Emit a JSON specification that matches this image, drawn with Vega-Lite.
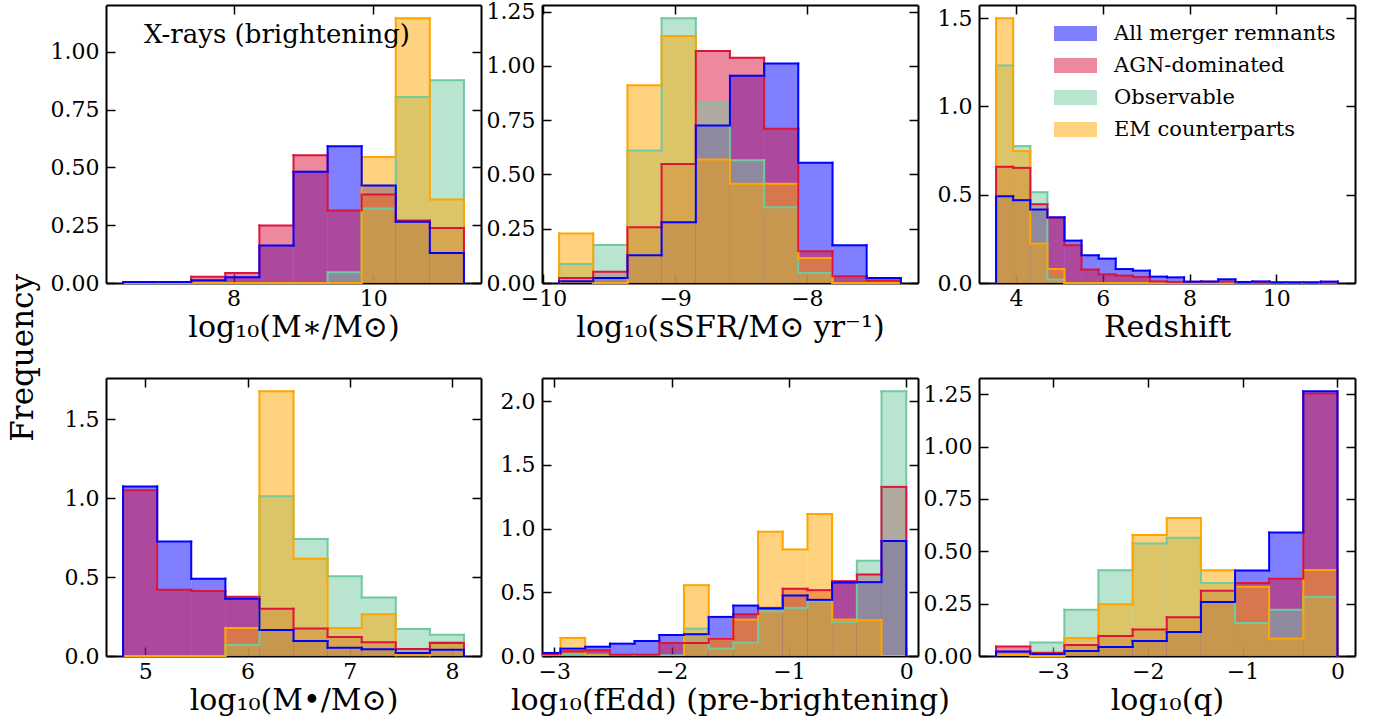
{
"$schema":"https://vega.github.io/schema/vega-lite/v6.json",
"autosize":{"type":"pad"},
"padding":{"left":8,"top":0,"right":5,"bottom":3},
"background":"white",
"title":{"text":"Frequency","orient":"left","anchor":"middle","fontSize":31,"font":"DejaVu Serif","fontWeight":"normal","color":"black","offset":10},
"columns":3,
"spacing":{"row":95,"column":61},
"bounds":"flush",
"resolve":{"scale":{"color":"independent","stroke":"independent"}},
"concat":[
{"width":375,"height":278,
"title":{"text":"X-rays (brightening)","orient":"top","anchor":"start","frame":"group","offset":-44,"dx":38,"fontSize":26,"font":"DejaVu Serif","fontWeight":"normal","color":"black"},
"data":{"values":[
{"x0":6.420,"x1":6.908,"all":0.004,"agn":0.004,"obs":0,"em":0},
{"x0":6.908,"x1":7.395,"all":0.004,"agn":0.004,"obs":0,"em":0},
{"x0":7.395,"x1":7.883,"all":0.012,"agn":0.027,"obs":0,"em":0},
{"x0":7.883,"x1":8.370,"all":0.025,"agn":0.043,"obs":0,"em":0},
{"x0":8.370,"x1":8.858,"all":0.162,"agn":0.249,"obs":0,"em":0},
{"x0":8.858,"x1":9.346,"all":0.481,"agn":0.553,"obs":0,"em":0},
{"x0":9.346,"x1":9.833,"all":0.592,"agn":0.314,"obs":0.046,"em":0},
{"x0":9.833,"x1":10.321,"all":0.422,"agn":0.383,"obs":0.322,"em":0.545},
{"x0":10.321,"x1":10.808,"all":0.265,"agn":0.270,"obs":0.805,"em":1.146},
{"x0":10.808,"x1":11.296,"all":0.130,"agn":0.238,"obs":0.877,"em":0.361}
]},
"layer":[
{"transform":[{"fold":["all","agn","obs","em"],"as":["series","h"]}],"mark":{"type":"rect"},"encoding":{"x":{"field":"x0","type":"quantitative","scale":{"domain":[6.176,11.54],"nice":false,"zero":false},"axis":{"orient":"bottom","values":[8,10],"format":"d","title":"log₁₀(M∗/M⊙)"}},"x2":{"field":"x1"},"y":{"field":"h","type":"quantitative","scale":{"domain":[0,1.203],"nice":false},"axis":{"orient":"left","values":[0,0.25,0.5,0.75,1],"format":".2f","title":null}},"y2":{"datum":0},"color":{"field":"series","type":"nominal","legend":null}}},
{"transform":[{"fold":["obs","em","agn","all"],"as":["series","h"]}],"mark":{"type":"rule"},"encoding":{"x":{"field":"x0","type":"quantitative","axis":{"orient":"top","values":[8,10],"labels":false,"title":null}},"x2":{"field":"x1"},"y":{"field":"h","type":"quantitative","axis":{"orient":"right","values":[0,0.25,0.5,0.75,1],"labels":false,"title":null}},"stroke":{"field":"series","type":"nominal","legend":null}}},
{"transform":[{"fold":["obs","em","agn","all"],"as":["series","h"]},{"window":[{"op":"lag","field":"h","as":"hp"},{"op":"lead","field":"h","as":"hn"}],"groupby":["series"],"sort":[{"field":"x0","order":"ascending"}]},{"filter":"datum.hp != null"}],"mark":{"type":"rule"},"encoding":{"x":{"field":"x0","type":"quantitative","axis":null},"y":{"field":"hp","type":"quantitative","axis":null},"y2":{"field":"h"},"stroke":{"field":"series","type":"nominal","legend":null}}},
{"transform":[{"fold":["obs","em","agn","all"],"as":["series","h"]},{"window":[{"op":"lag","field":"h","as":"hp"},{"op":"lead","field":"h","as":"hn"}],"groupby":["series"],"sort":[{"field":"x0","order":"ascending"}]},{"filter":"datum.hp == null"}],"mark":{"type":"rule"},"encoding":{"x":{"field":"x0","type":"quantitative","axis":null},"y":{"field":"h","type":"quantitative","axis":null},"y2":{"datum":0},"stroke":{"field":"series","type":"nominal","legend":null}}},
{"transform":[{"fold":["obs","em","agn","all"],"as":["series","h"]},{"window":[{"op":"lag","field":"h","as":"hp"},{"op":"lead","field":"h","as":"hn"}],"groupby":["series"],"sort":[{"field":"x0","order":"ascending"}]},{"filter":"datum.hn == null"}],"mark":{"type":"rule"},"encoding":{"x":{"field":"x1","type":"quantitative","axis":null},"y":{"field":"h","type":"quantitative","axis":null},"y2":{"datum":0},"stroke":{"field":"series","type":"nominal","legend":null}}}
]},
{"width":376,"height":278,
"data":{"values":[
{"x0":-9.881,"x1":-9.622,"all":0.008,"agn":0.023,"obs":0.088,"em":0.228},
{"x0":-9.622,"x1":-9.362,"all":0.023,"agn":0.052,"obs":0.175,"em":0},
{"x0":-9.362,"x1":-9.103,"all":0.128,"agn":0.257,"obs":0.611,"em":0.911},
{"x0":-9.103,"x1":-8.843,"all":0.280,"agn":0.548,"obs":1.220,"em":1.138},
{"x0":-8.843,"x1":-8.584,"all":0.726,"agn":1.069,"obs":0.828,"em":0.569},
{"x0":-8.584,"x1":-8.324,"all":0.955,"agn":1.038,"obs":0.566,"em":0.457},
{"x0":-8.324,"x1":-8.065,"all":1.011,"agn":0.711,"obs":0.349,"em":0.457},
{"x0":-8.065,"x1":-7.805,"all":0.554,"agn":0.146,"obs":0.046,"em":0.115},
{"x0":-7.805,"x1":-7.546,"all":0.174,"agn":0.031,"obs":0,"em":0},
{"x0":-7.546,"x1":-7.286,"all":0.023,"agn":0.012,"obs":0,"em":0}
]},
"layer":[
{"transform":[{"fold":["all","agn","obs","em"],"as":["series","h"]}],"mark":{"type":"rect"},"encoding":{"x":{"field":"x0","type":"quantitative","scale":{"domain":[-10.011,-7.156],"nice":false,"zero":false},"axis":{"orient":"bottom","values":[-10,-9,-8],"format":"d","title":"log₁₀(sSFR/M⊙ yr⁻¹)"}},"x2":{"field":"x1"},"y":{"field":"h","type":"quantitative","scale":{"domain":[0,1.281],"nice":false},"axis":{"orient":"left","values":[0,0.25,0.5,0.75,1,1.25],"format":".2f","title":null}},"y2":{"datum":0},"color":{"field":"series","type":"nominal","legend":null}}},
{"transform":[{"fold":["obs","em","agn","all"],"as":["series","h"]}],"mark":{"type":"rule"},"encoding":{"x":{"field":"x0","type":"quantitative","axis":{"orient":"top","values":[-10,-9,-8],"labels":false,"title":null}},"x2":{"field":"x1"},"y":{"field":"h","type":"quantitative","axis":{"orient":"right","values":[0,0.25,0.5,0.75,1,1.25],"labels":false,"title":null}},"stroke":{"field":"series","type":"nominal","legend":null}}},
{"transform":[{"fold":["obs","em","agn","all"],"as":["series","h"]},{"window":[{"op":"lag","field":"h","as":"hp"},{"op":"lead","field":"h","as":"hn"}],"groupby":["series"],"sort":[{"field":"x0","order":"ascending"}]},{"filter":"datum.hp != null"}],"mark":{"type":"rule"},"encoding":{"x":{"field":"x0","type":"quantitative","axis":null},"y":{"field":"hp","type":"quantitative","axis":null},"y2":{"field":"h"},"stroke":{"field":"series","type":"nominal","legend":null}}},
{"transform":[{"fold":["obs","em","agn","all"],"as":["series","h"]},{"window":[{"op":"lag","field":"h","as":"hp"},{"op":"lead","field":"h","as":"hn"}],"groupby":["series"],"sort":[{"field":"x0","order":"ascending"}]},{"filter":"datum.hp == null"}],"mark":{"type":"rule"},"encoding":{"x":{"field":"x0","type":"quantitative","axis":null},"y":{"field":"h","type":"quantitative","axis":null},"y2":{"datum":0},"stroke":{"field":"series","type":"nominal","legend":null}}},
{"transform":[{"fold":["obs","em","agn","all"],"as":["series","h"]},{"window":[{"op":"lag","field":"h","as":"hp"},{"op":"lead","field":"h","as":"hn"}],"groupby":["series"],"sort":[{"field":"x0","order":"ascending"}]},{"filter":"datum.hn == null"}],"mark":{"type":"rule"},"encoding":{"x":{"field":"x1","type":"quantitative","axis":null},"y":{"field":"h","type":"quantitative","axis":null},"y2":{"datum":0},"stroke":{"field":"series","type":"nominal","legend":null}}}
]},
{"width":376,"height":278,
"data":{"values":[
{"x0":3.538,"x1":3.932,"all":0.491,"agn":0.658,"obs":1.232,"em":1.499},
{"x0":3.932,"x1":4.327,"all":0.469,"agn":0.652,"obs":0.775,"em":0.747},
{"x0":4.327,"x1":4.721,"all":0.416,"agn":0.446,"obs":0.514,"em":0.223},
{"x0":4.721,"x1":5.115,"all":0.372,"agn":0.369,"obs":0.02,"em":0.079},
{"x0":5.115,"x1":5.509,"all":0.240,"agn":0.214,"obs":0,"em":0},
{"x0":5.509,"x1":5.904,"all":0.157,"agn":0.076,"obs":0,"em":0},
{"x0":5.904,"x1":6.298,"all":0.138,"agn":0.049,"obs":0,"em":0},
{"x0":6.298,"x1":6.692,"all":0.079,"agn":0.042,"obs":0,"em":0},
{"x0":6.692,"x1":7.086,"all":0.070,"agn":0.034,"obs":0,"em":0},
{"x0":7.086,"x1":7.481,"all":0.036,"agn":0.009,"obs":0,"em":0},
{"x0":7.481,"x1":7.875,"all":0.032,"agn":0.006,"obs":0,"em":0},
{"x0":7.875,"x1":8.269,"all":0.008,"agn":0.006,"obs":0,"em":0},
{"x0":8.269,"x1":8.663,"all":0.008,"agn":0.008,"obs":0,"em":0},
{"x0":8.663,"x1":9.058,"all":0.021,"agn":0.008,"obs":0,"em":0},
{"x0":9.058,"x1":9.452,"all":0.006,"agn":0.002,"obs":0,"em":0},
{"x0":9.452,"x1":9.846,"all":0.009,"agn":0.002,"obs":0,"em":0},
{"x0":9.846,"x1":10.240,"all":0.004,"agn":0.002,"obs":0,"em":0},
{"x0":10.240,"x1":10.635,"all":0.004,"agn":0.002,"obs":0,"em":0},
{"x0":10.635,"x1":11.029,"all":0.004,"agn":0.002,"obs":0,"em":0},
{"x0":11.029,"x1":11.423,"all":0.008,"agn":0.002,"obs":0,"em":0}
]},
"layer":[
{"transform":[{"fold":["all","agn","obs","em"],"as":["series","h"]}],"mark":{"type":"rect"},"encoding":{"x":{"field":"x0","type":"quantitative","scale":{"domain":[3.144,11.817],"nice":false,"zero":false},"axis":{"orient":"bottom","values":[4,6,8,10],"format":"d","title":"Redshift"}},"x2":{"field":"x1"},"y":{"field":"h","type":"quantitative","scale":{"domain":[0,1.574],"nice":false},"axis":{"orient":"left","values":[0,0.5,1,1.5],"format":".1f","title":null}},"y2":{"datum":0},"color":{"field":"series","type":"nominal","scale":{"domain":["all","agn","obs","em"],"range":["#0000ff","#dc143c","#72c9a1","#ffa500"]},"legend":{"orient":"none","legendX":75,"legendY":7,"title":null,"padding":0,"symbolType":"M-1,-0.35H1V0.35H-1Z","symbolSize":1849,"symbolOpacity":1,"symbolStrokeWidth":0,"labelFontSize":21,"labelFont":"DejaVu Serif","labelColor":"black","labelOffset":17,"labelLimit":0,"rowPadding":-1,"labelExpr":"datum.label == 'all' ? 'All merger remnants' : datum.label == 'agn' ? 'AGN-dominated' : datum.label == 'obs' ? 'Observable' : 'EM counterparts'"}}}},
{"transform":[{"fold":["obs","em","agn","all"],"as":["series","h"]}],"mark":{"type":"rule"},"encoding":{"x":{"field":"x0","type":"quantitative","axis":{"orient":"top","values":[4,6,8,10],"labels":false,"title":null}},"x2":{"field":"x1"},"y":{"field":"h","type":"quantitative","axis":{"orient":"right","values":[0,0.5,1,1.5],"labels":false,"title":null}},"stroke":{"field":"series","type":"nominal","legend":null}}},
{"transform":[{"fold":["obs","em","agn","all"],"as":["series","h"]},{"window":[{"op":"lag","field":"h","as":"hp"},{"op":"lead","field":"h","as":"hn"}],"groupby":["series"],"sort":[{"field":"x0","order":"ascending"}]},{"filter":"datum.hp != null"}],"mark":{"type":"rule"},"encoding":{"x":{"field":"x0","type":"quantitative","axis":null},"y":{"field":"hp","type":"quantitative","axis":null},"y2":{"field":"h"},"stroke":{"field":"series","type":"nominal","legend":null}}},
{"transform":[{"fold":["obs","em","agn","all"],"as":["series","h"]},{"window":[{"op":"lag","field":"h","as":"hp"},{"op":"lead","field":"h","as":"hn"}],"groupby":["series"],"sort":[{"field":"x0","order":"ascending"}]},{"filter":"datum.hp == null"}],"mark":{"type":"rule"},"encoding":{"x":{"field":"x0","type":"quantitative","axis":null},"y":{"field":"h","type":"quantitative","axis":null},"y2":{"datum":0},"stroke":{"field":"series","type":"nominal","legend":null}}},
{"transform":[{"fold":["obs","em","agn","all"],"as":["series","h"]},{"window":[{"op":"lag","field":"h","as":"hp"},{"op":"lead","field":"h","as":"hn"}],"groupby":["series"],"sort":[{"field":"x0","order":"ascending"}]},{"filter":"datum.hn == null"}],"mark":{"type":"rule"},"encoding":{"x":{"field":"x1","type":"quantitative","axis":null},"y":{"field":"h","type":"quantitative","axis":null},"y2":{"datum":0},"stroke":{"field":"series","type":"nominal","legend":null}}}
]},
{"width":375,"height":278,
"data":{"values":[
{"x0":4.782,"x1":5.116,"all":1.075,"agn":1.050,"obs":0,"em":0},
{"x0":5.116,"x1":5.449,"all":0.725,"agn":0.420,"obs":0,"em":0},
{"x0":5.449,"x1":5.783,"all":0.490,"agn":0.412,"obs":0,"em":0},
{"x0":5.783,"x1":6.116,"all":0.363,"agn":0.376,"obs":0.070,"em":0.177},
{"x0":6.116,"x1":6.450,"all":0.165,"agn":0.300,"obs":1.012,"em":1.678},
{"x0":6.450,"x1":6.783,"all":0.095,"agn":0.175,"obs":0.742,"em":0.617},
{"x0":6.783,"x1":7.117,"all":0.053,"agn":0.120,"obs":0.505,"em":0.177},
{"x0":7.117,"x1":7.450,"all":0.042,"agn":0.087,"obs":0.370,"em":0.264},
{"x0":7.450,"x1":7.784,"all":0.019,"agn":0.044,"obs":0.171,"em":0.004},
{"x0":7.784,"x1":8.117,"all":0.040,"agn":0.082,"obs":0.135,"em":0.089}
]},
"layer":[
{"transform":[{"fold":["all","agn","obs","em"],"as":["series","h"]}],"mark":{"type":"rect"},"encoding":{"x":{"field":"x0","type":"quantitative","scale":{"domain":[4.615,8.284],"nice":false,"zero":false},"axis":{"orient":"bottom","values":[5,6,7,8],"format":"d","title":"log₁₀(M•/M⊙)"}},"x2":{"field":"x1"},"y":{"field":"h","type":"quantitative","scale":{"domain":[0,1.762],"nice":false},"axis":{"orient":"left","values":[0,0.5,1,1.5],"format":".1f","title":null}},"y2":{"datum":0},"color":{"field":"series","type":"nominal","legend":null}}},
{"transform":[{"fold":["obs","em","agn","all"],"as":["series","h"]}],"mark":{"type":"rule"},"encoding":{"x":{"field":"x0","type":"quantitative","axis":{"orient":"top","values":[5,6,7,8],"labels":false,"title":null}},"x2":{"field":"x1"},"y":{"field":"h","type":"quantitative","axis":{"orient":"right","values":[0,0.5,1,1.5],"labels":false,"title":null}},"stroke":{"field":"series","type":"nominal","legend":null}}},
{"transform":[{"fold":["obs","em","agn","all"],"as":["series","h"]},{"window":[{"op":"lag","field":"h","as":"hp"},{"op":"lead","field":"h","as":"hn"}],"groupby":["series"],"sort":[{"field":"x0","order":"ascending"}]},{"filter":"datum.hp != null"}],"mark":{"type":"rule"},"encoding":{"x":{"field":"x0","type":"quantitative","axis":null},"y":{"field":"hp","type":"quantitative","axis":null},"y2":{"field":"h"},"stroke":{"field":"series","type":"nominal","legend":null}}},
{"transform":[{"fold":["obs","em","agn","all"],"as":["series","h"]},{"window":[{"op":"lag","field":"h","as":"hp"},{"op":"lead","field":"h","as":"hn"}],"groupby":["series"],"sort":[{"field":"x0","order":"ascending"}]},{"filter":"datum.hp == null"}],"mark":{"type":"rule"},"encoding":{"x":{"field":"x0","type":"quantitative","axis":null},"y":{"field":"h","type":"quantitative","axis":null},"y2":{"datum":0},"stroke":{"field":"series","type":"nominal","legend":null}}},
{"transform":[{"fold":["obs","em","agn","all"],"as":["series","h"]},{"window":[{"op":"lag","field":"h","as":"hp"},{"op":"lead","field":"h","as":"hn"}],"groupby":["series"],"sort":[{"field":"x0","order":"ascending"}]},{"filter":"datum.hn == null"}],"mark":{"type":"rule"},"encoding":{"x":{"field":"x1","type":"quantitative","axis":null},"y":{"field":"h","type":"quantitative","axis":null},"y2":{"datum":0},"stroke":{"field":"series","type":"nominal","legend":null}}}
]},
{"width":376,"height":278,
"data":{"values":[
{"x0":-3.158,"x1":-2.947,"all":0.024,"agn":0.013,"obs":0.005,"em":0},
{"x0":-2.947,"x1":-2.737,"all":0.058,"agn":0.037,"obs":0.013,"em":0.142},
{"x0":-2.737,"x1":-2.526,"all":0.073,"agn":0.045,"obs":0.010,"em":0.005},
{"x0":-2.526,"x1":-2.316,"all":0.097,"agn":0.010,"obs":0.005,"em":0},
{"x0":-2.316,"x1":-2.105,"all":0.118,"agn":0.010,"obs":0.005,"em":0},
{"x0":-2.105,"x1":-1.895,"all":0.165,"agn":0.102,"obs":0.005,"em":0},
{"x0":-1.895,"x1":-1.684,"all":0.171,"agn":0.102,"obs":0.215,"em":0.556},
{"x0":-1.684,"x1":-1.474,"all":0.307,"agn":0.136,"obs":0.058,"em":0.142},
{"x0":-1.474,"x1":-1.263,"all":0.396,"agn":0.328,"obs":0.105,"em":0.286},
{"x0":-1.263,"x1":-1.053,"all":0.373,"agn":0.378,"obs":0.352,"em":0.976},
{"x0":-1.053,"x1":-0.842,"all":0.475,"agn":0.528,"obs":0.378,"em":0.837},
{"x0":-0.842,"x1":-0.632,"all":0.441,"agn":0.517,"obs":0.430,"em":1.115},
{"x0":-0.632,"x1":-0.421,"all":0.577,"agn":0.588,"obs":0.268,"em":0.286},
{"x0":-0.421,"x1":-0.211,"all":0.580,"agn":0.640,"obs":0.748,"em":0.281},
{"x0":-0.211,"x1":0,"all":0.903,"agn":1.328,"obs":2.079,"em":0}
]},
"layer":[
{"transform":[{"fold":["all","agn","obs","em"],"as":["series","h"]}],"mark":{"type":"rect","clip":true},"encoding":{"x":{"field":"x0","type":"quantitative","scale":{"domain":[-3.105,0.1],"nice":false,"zero":false},"axis":{"orient":"bottom","values":[-3,-2,-1,0],"format":"d","title":"log₁₀(fEdd) (pre-brightening)"}},"x2":{"field":"x1"},"y":{"field":"h","type":"quantitative","scale":{"domain":[0,2.183],"nice":false},"axis":{"orient":"left","values":[0,0.5,1,1.5,2],"format":".1f","title":null}},"y2":{"datum":0},"color":{"field":"series","type":"nominal","legend":null}}},
{"transform":[{"fold":["obs","em","agn","all"],"as":["series","h"]}],"mark":{"type":"rule","clip":true},"encoding":{"x":{"field":"x0","type":"quantitative","axis":{"orient":"top","values":[-3,-2,-1,0],"labels":false,"title":null}},"x2":{"field":"x1"},"y":{"field":"h","type":"quantitative","axis":{"orient":"right","values":[0,0.5,1,1.5,2],"labels":false,"title":null}},"stroke":{"field":"series","type":"nominal","legend":null}}},
{"transform":[{"fold":["obs","em","agn","all"],"as":["series","h"]},{"window":[{"op":"lag","field":"h","as":"hp"},{"op":"lead","field":"h","as":"hn"}],"groupby":["series"],"sort":[{"field":"x0","order":"ascending"}]},{"filter":"datum.hp != null"}],"mark":{"type":"rule","clip":true},"encoding":{"x":{"field":"x0","type":"quantitative","axis":null},"y":{"field":"hp","type":"quantitative","axis":null},"y2":{"field":"h"},"stroke":{"field":"series","type":"nominal","legend":null}}},
{"transform":[{"fold":["obs","em","agn","all"],"as":["series","h"]},{"window":[{"op":"lag","field":"h","as":"hp"},{"op":"lead","field":"h","as":"hn"}],"groupby":["series"],"sort":[{"field":"x0","order":"ascending"}]},{"filter":"datum.hp == null"}],"mark":{"type":"rule","clip":true},"encoding":{"x":{"field":"x0","type":"quantitative","axis":null},"y":{"field":"h","type":"quantitative","axis":null},"y2":{"datum":0},"stroke":{"field":"series","type":"nominal","legend":null}}},
{"transform":[{"fold":["obs","em","agn","all"],"as":["series","h"]},{"window":[{"op":"lag","field":"h","as":"hp"},{"op":"lead","field":"h","as":"hn"}],"groupby":["series"],"sort":[{"field":"x0","order":"ascending"}]},{"filter":"datum.hn == null"}],"mark":{"type":"rule","clip":true},"encoding":{"x":{"field":"x1","type":"quantitative","axis":null},"y":{"field":"h","type":"quantitative","axis":null},"y2":{"datum":0},"stroke":{"field":"series","type":"nominal","legend":null}}}
]},
{"width":376,"height":278,
"data":{"values":[
{"x0":-3.598,"x1":-3.238,"all":0.022,"agn":0.045,"obs":0.008,"em":0.005},
{"x0":-3.238,"x1":-2.878,"all":0.010,"agn":0.016,"obs":0.064,"em":0},
{"x0":-2.878,"x1":-2.519,"all":0.024,"agn":0.053,"obs":0.221,"em":0.086},
{"x0":-2.519,"x1":-2.159,"all":0.043,"agn":0.096,"obs":0.409,"em":0.247},
{"x0":-2.159,"x1":-1.799,"all":0.072,"agn":0.127,"obs":0.537,"em":0.578},
{"x0":-1.799,"x1":-1.439,"all":0.115,"agn":0.185,"obs":0.565,"em":0.659},
{"x0":-1.439,"x1":-1.079,"all":0.258,"agn":0.311,"obs":0.349,"em":0.409},
{"x0":-1.079,"x1":-0.720,"all":0.408,"agn":0.349,"obs":0.158,"em":0.330},
{"x0":-0.720,"x1":-0.360,"all":0.589,"agn":0.369,"obs":0.221,"em":0.084},
{"x0":-0.360,"x1":0,"all":1.264,"agn":1.253,"obs":0.282,"em":0.411}
]},
"layer":[
{"transform":[{"fold":["all","agn","obs","em"],"as":["series","h"]}],"mark":{"type":"rect"},"encoding":{"x":{"field":"x0","type":"quantitative","scale":{"domain":[-3.778,0.185],"nice":false,"zero":false},"axis":{"orient":"bottom","values":[-3,-2,-1,0],"format":"d","title":"log₁₀(q)"}},"x2":{"field":"x1"},"y":{"field":"h","type":"quantitative","scale":{"domain":[0,1.327],"nice":false},"axis":{"orient":"left","values":[0,0.25,0.5,0.75,1,1.25],"format":".2f","title":null}},"y2":{"datum":0},"color":{"field":"series","type":"nominal","legend":null}}},
{"transform":[{"fold":["obs","em","agn","all"],"as":["series","h"]}],"mark":{"type":"rule"},"encoding":{"x":{"field":"x0","type":"quantitative","axis":{"orient":"top","values":[-3,-2,-1,0],"labels":false,"title":null}},"x2":{"field":"x1"},"y":{"field":"h","type":"quantitative","axis":{"orient":"right","values":[0,0.25,0.5,0.75,1,1.25],"labels":false,"title":null}},"stroke":{"field":"series","type":"nominal","legend":null}}},
{"transform":[{"fold":["obs","em","agn","all"],"as":["series","h"]},{"window":[{"op":"lag","field":"h","as":"hp"},{"op":"lead","field":"h","as":"hn"}],"groupby":["series"],"sort":[{"field":"x0","order":"ascending"}]},{"filter":"datum.hp != null"}],"mark":{"type":"rule"},"encoding":{"x":{"field":"x0","type":"quantitative","axis":null},"y":{"field":"hp","type":"quantitative","axis":null},"y2":{"field":"h"},"stroke":{"field":"series","type":"nominal","legend":null}}},
{"transform":[{"fold":["obs","em","agn","all"],"as":["series","h"]},{"window":[{"op":"lag","field":"h","as":"hp"},{"op":"lead","field":"h","as":"hn"}],"groupby":["series"],"sort":[{"field":"x0","order":"ascending"}]},{"filter":"datum.hp == null"}],"mark":{"type":"rule"},"encoding":{"x":{"field":"x0","type":"quantitative","axis":null},"y":{"field":"h","type":"quantitative","axis":null},"y2":{"datum":0},"stroke":{"field":"series","type":"nominal","legend":null}}},
{"transform":[{"fold":["obs","em","agn","all"],"as":["series","h"]},{"window":[{"op":"lag","field":"h","as":"hp"},{"op":"lead","field":"h","as":"hn"}],"groupby":["series"],"sort":[{"field":"x0","order":"ascending"}]},{"filter":"datum.hn == null"}],"mark":{"type":"rule"},"encoding":{"x":{"field":"x1","type":"quantitative","axis":null},"y":{"field":"h","type":"quantitative","axis":null},"y2":{"datum":0},"stroke":{"field":"series","type":"nominal","legend":null}}}
]}
],
"config":{
"font":"DejaVu Serif",
"view":{"stroke":null},
"range":{"category":["#dc143c","#0000ff","#ffa500","#72c9a1"]},
"axis":{"grid":false,"domainColor":"black","domainWidth":2,"tickColor":"black","tickWidth":1.5,"tickSize":-9,"labelFont":"DejaVu Serif","labelFontSize":22,"labelColor":"black","labelFlush":false,"labelOverlap":false,"labelBound":false,"titleFont":"DejaVu Serif","titleFontSize":30,"titleFontWeight":"normal","titleColor":"black","titlePadding":3,"zindex":1},
"axisX":{"labelPadding":14},
"axisY":{"labelPadding":16},
"rect":{"fillOpacity":0.5,"strokeWidth":0},
"rule":{"strokeWidth":2,"strokeCap":"square"}
}
}
